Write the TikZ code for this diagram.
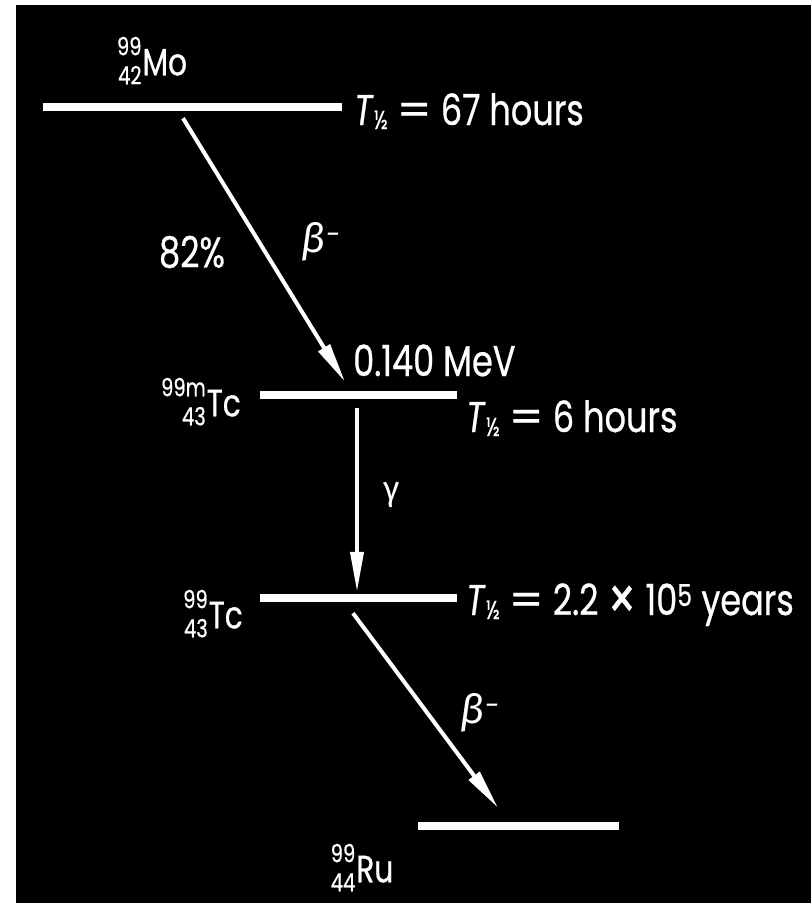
\documentclass[tikz,border=0pt]{standalone}
\usepackage{fontspec}
\setmainfont{Poppins}[FakeStretch=0.78,FakeBold=0.6]
\newfontfamily\griego{Fira Sans}
\usetikzlibrary{positioning,arrows.meta,calc}

\newcommand{\nucl}[3]{\raisebox{-9pt}{\fontsize{25}{29}\selectfont\begin{tabular}[b]{@{}r@{}}#1\\#2\end{tabular}}\kern1pt#3}
\newcommand{\thalf}{\textit{T}\kern0.5pt\raisebox{-4pt}{\fontsize{26}{26}\selectfont ½}}
\newcommand{\igual}{\scalebox{1.45}[1]{=}}
\newcommand{\por}{\raisebox{-4.5pt}{\scalebox{1.35}{×}}}

\begin{document}
\begin{tikzpicture}[x=1pt,y=-1pt,
  nivel/.style={fill=white, minimum height=8pt, inner sep=0pt},
  flecha/.style={-{Triangle[length=40pt,width=13pt]}, white, line width=4pt},
  txt/.style={text=white, font=\fontsize{43}{46}\selectfont, inner sep=0pt},
  nuc/.style={txt, font=\fontsize{38}{40}\selectfont},
  vida/.style={txt, anchor=base west},
  griegas/.style={txt, font=\fontsize{40}{44}\selectfont\griego}
]
\useasboundingbox (0,0) rectangle (811,903);
\fill[black] (16,5) rectangle (811,903);

% niveles
\node[nivel, minimum width=299pt] (mo) at (192.5,107) {};
\node[nivel, minimum width=197pt] (tcm) at (358.5,395) {};
\node[nivel, minimum width=197pt] (tc) at (358.5,598) {};
\node[nivel, minimum width=201pt] (ru) at (518.5,826) {};

% nucleos
\node[nuc] (moetq) at (152,64) {\nucl{99}{42}{Mo}};
\node[nuc, anchor=east] (tcmetq) at (241,405) {\nucl{99m}{43}{Tc}};
\node[nuc, anchor=east] (tcetq) at (243,617) {\nucl{99}{43}{Tc}};
\node[nuc] (ruetq) at (362,871) {\nucl{99}{44}{Ru}};

% vidas medias
\node[vida] (v1) at (354,125) {\thalf\ \igual\ 67 hours};
\node[vida] (v2) at (466,432) {\thalf\ \igual\ 6 hours};
\node[vida] (v3) at (466,615) {\thalf\ \igual\ 2.2 \por\ 10\textsuperscript{5} years};

% desintegraciones
\draw[flecha] ([xshift=-9.5pt,yshift=-7pt]mo.south) -- ([xshift=-13.5pt,yshift=9pt]tcm.north);
\draw[flecha] ([xshift=-1.5pt,yshift=-9pt]tcm.south) -- ([xshift=-1.5pt,yshift=2pt]tc.north);
\draw[flecha] ([xshift=-5.5pt,yshift=-11pt]tc.south) -- ([xshift=-20.5pt,yshift=14pt]ru.north);

\node[txt] (pct) at (192,252) {82\%};
\node[griegas] (b1) at (321,242) {\itshape β\textsuperscript{−}};
\node[txt, anchor=base west] (e1) at (353,376) {0.140 MeV};
\node[griegas, font=\fontsize{34}{40}\griego] (g1) at (392,495) {γ};
\node[griegas] (b2) at (480,713) {\itshape β\textsuperscript{−}};
\end{tikzpicture}
\end{document}
